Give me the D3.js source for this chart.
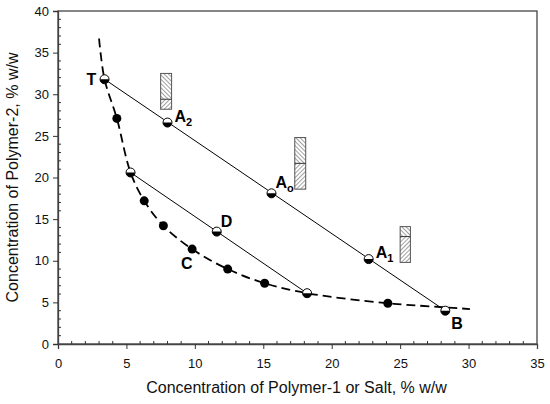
<!doctype html>
<html lang="en">
<head>
  <meta charset="utf-8">
  <title>Phase Diagram</title>
  <style>
    body { margin: 0; background: #fff; }
    text { font-family: Arial, "Liberation Sans", sans-serif; }
  </style>
</head>
<body>
<svg id="chart" width="550" height="404"></svg>

<script src="https://d3js.org/d3.v7.min.js"></script>
<script type="text/javascript">
// binodal curve (x = polymer-1/salt, y = polymer-2)
const binodal = [
  [3.0, 36.7], [3.4, 31.8], [4.3, 27.1], [5.3, 20.6], [6.3, 17.2],
  [7.7, 14.2], [9.8, 11.4], [12.4, 9.0], [15.1, 7.3], [18.2, 6.1],
  [24.1, 4.9], [28.3, 4.4], [30.1, 4.2]
];

// experimental binodal points (filled)
const filledPts = [
  [4.3, 27.1], [6.3, 17.2], [7.7, 14.2], [9.8, 11.4],
  [12.4, 9.0], [15.1, 7.3], [24.1, 4.9]
];

// tie-line points (half filled)
const tieLine1 = [[3.4, 31.8], [8.0, 26.6], [15.6, 18.1], [22.7, 10.2], [28.3, 4.0]];
const tieLine2 = [[5.3, 20.6], [11.6, 13.5], [18.2, 6.1]];

// point labels
const labels = [
  { name: 'T', sub: '', x: 3.4, y: 31.8 },
  { name: 'A', sub: '2', x: 8.0, y: 26.6 },
  { name: 'A', sub: 'o', x: 15.6, y: 18.1 },
  { name: 'A', sub: '1', x: 22.7, y: 10.2 },
  { name: 'B', sub: '', x: 28.3, y: 4.0 },
  { name: 'D', sub: '', x: 11.6, y: 13.5 },
  { name: 'C', sub: '', x: 9.8, y: 11.4 }
];

// phase volume bars: x range, top, split, bottom
const volumeBars = [
  { x0: 7.5, x1: 8.3, top: 32.5, mid: 29.4, bottom: 28.2 },
  { x0: 17.3, x1: 18.1, top: 24.8, mid: 21.7, bottom: 18.6 },
  { x0: 25.0, x1: 25.75, top: 14.1, mid: 12.9, bottom: 9.8 }
];

const xTicks = [0, 5, 10, 15, 20, 25, 30, 35];
const yTicks = [0, 5, 10, 15, 20, 25, 30, 35, 40];

const chart = d3.select('#chart');
const margin = { top: 11, right: 13, bottom: 60, left: 58 };
const width = 550 - margin.left - margin.right;
const height = 404 - margin.top - margin.bottom;
const g = chart.append('g')
  .attr('transform', `translate(${margin.left} ${margin.top})`);

const x = d3.scaleLinear().domain([0, 35]).range([0, width]);
const y = d3.scaleLinear().domain([0, 40]).range([height, 0]);

// hatch patterns
const defs = chart.append('defs');
function hatch(id, angle) {
  const p = defs.append('pattern')
    .attr('id', id)
    .attr('patternUnits', 'userSpaceOnUse')
    .attr('width', 3).attr('height', 3)
    .attr('patternTransform', `rotate(${angle})`);
  p.append('rect').attr('width', 3).attr('height', 3).attr('fill', '#fff');
  p.append('line').attr('x1', 0).attr('y1', 0).attr('x2', 0).attr('y2', 3)
    .attr('stroke', '#444').attr('stroke-width', 1);
}
hatch('hatchBack', -45);
hatch('hatchFwd', 45);

// frame
g.append('rect')
  .attr('width', width).attr('height', height)
  .attr('fill', 'none').attr('stroke', '#444').attr('stroke-width', 1.3);

// axes: major ticks out, minor ticks in
const xAxis = g.append('g')
  .attr('transform', `translate(0 ${height})`)
  .call(d3.axisBottom(x).tickValues(xTicks).tickSize(5).tickPadding(10));
xAxis.selectAll('.tick')
  .filter(d => d === 35)
  .select('line').remove();
g.append('g')
  .attr('transform', `translate(0 ${height})`)
  .selectAll('line')
  .data(d3.range(1, 35).filter(d => d % 5 !== 0))
  .join('line')
  .attr('x1', d => x(d)).attr('x2', d => x(d))
  .attr('y1', 0).attr('y2', -3)
  .attr('stroke', '#333');

const yAxis = g.append('g')
  .call(d3.axisLeft(y).tickValues(yTicks).tickSize(5).tickPadding(4));
g.append('g')
  .selectAll('line')
  .data(d3.range(1, 40).filter(d => d % 5 !== 0))
  .join('line')
  .attr('x1', 0).attr('x2', 3)
  .attr('y1', d => y(d)).attr('y2', d => y(d))
  .attr('stroke', '#333');

[xAxis, yAxis].forEach(a => {
  a.select('.domain').attr('stroke', '#444').attr('stroke-width', 1.3);
  a.selectAll('.tick line').attr('stroke', '#333');
  a.selectAll('.tick text')
    .attr('font-size', 13)
    .attr('font-family', 'Arial, "Liberation Sans", sans-serif')
    .attr('fill', '#111');
});

// axis titles
g.append('text')
  .attr('x', width / 2 - 1)
  .attr('y', height + 49)
  .attr('text-anchor', 'middle')
  .attr('font-size', 16)
  .attr('fill', '#111')
  .text('Concentration of Polymer-1 or Salt, % w/w');
g.append('text')
  .attr('transform', `translate(-40 ${height / 2}) rotate(-90)`)
  .attr('text-anchor', 'middle')
  .attr('font-size', 16)
  .attr('fill', '#111')
  .text('Concentration of Polymer-2, % w/w');

// binodal (dashed)
const line = d3.line()
  .x(d => x(d[0]))
  .y(d => y(d[1]))
  .curve(d3.curveCatmullRom.alpha(0.5));
g.append('path')
  .datum(binodal)
  .attr('fill', 'none')
  .attr('stroke', '#000')
  .attr('stroke-width', 1.8)
  .attr('stroke-dasharray', '9,5')
  .attr('d', line);

// tie lines
const straight = d3.line().x(d => x(d[0])).y(d => y(d[1]));
[tieLine1, tieLine2].forEach(t => {
  g.append('path')
    .datum([t[0], t[t.length - 1]])
    .attr('fill', 'none')
    .attr('stroke', '#000')
    .attr('stroke-width', 1)
    .attr('d', straight);
});

// volume bars
volumeBars.forEach(b => {
  g.append('rect')
    .attr('x', x(b.x0)).attr('y', y(b.top))
    .attr('width', x(b.x1) - x(b.x0)).attr('height', y(b.mid) - y(b.top))
    .attr('fill', 'url(#hatchBack)');
  g.append('rect')
    .attr('x', x(b.x0)).attr('y', y(b.mid))
    .attr('width', x(b.x1) - x(b.x0)).attr('height', y(b.bottom) - y(b.mid))
    .attr('fill', 'url(#hatchFwd)');
  g.append('rect')
    .attr('x', x(b.x0)).attr('y', y(b.top))
    .attr('width', x(b.x1) - x(b.x0)).attr('height', y(b.bottom) - y(b.top))
    .attr('fill', 'none').attr('stroke', '#555').attr('stroke-width', 1);
  g.append('line')
    .attr('x1', x(b.x0)).attr('x2', x(b.x1))
    .attr('y1', y(b.mid)).attr('y2', y(b.mid))
    .attr('stroke', '#333').attr('stroke-width', 1);
});

// filled points
g.selectAll('.filled')
  .data(filledPts)
  .join('circle')
  .attr('class', 'filled')
  .attr('cx', d => x(d[0])).attr('cy', d => y(d[1]))
  .attr('r', 4.5)
  .attr('fill', '#000');

// half-filled points
const r = 4.5;
const half = g.selectAll('.half')
  .data(tieLine1.concat(tieLine2))
  .join('g')
  .attr('class', 'half')
  .attr('transform', d => `translate(${x(d[0])} ${y(d[1])})`);
half.append('circle').attr('r', r).attr('fill', '#fff');
half.append('path')
  .attr('d', `M ${-r} 0 A ${r} ${r} 0 0 0 ${r} 0 Z`)
  .attr('fill', '#000');
half.append('circle').attr('r', r)
  .attr('fill', 'none').attr('stroke', '#000').attr('stroke-width', 1);

// labels
const offsets = {
  'T': [-18, 6], 'A2': [7, -1], 'Ao': [4, -5], 'A1': [7, -1],
  'B': [6, 18], 'D': [4, -5], 'C': [-11, 20]
};
labels.forEach(l => {
  const off = offsets[l.name + l.sub];
  const t = g.append('text')
    .attr('x', x(l.x) + off[0])
    .attr('y', y(l.y) + off[1])
    .attr('font-size', 16)
    .attr('font-weight', 'bold')
    .attr('fill', '#000')
    .text(l.name);
  if (l.sub) {
    t.append('tspan')
      .attr('dy', 4)
      .attr('font-size', 11)
      .text(l.sub);
  }
});
</script>
</body>
</html>
